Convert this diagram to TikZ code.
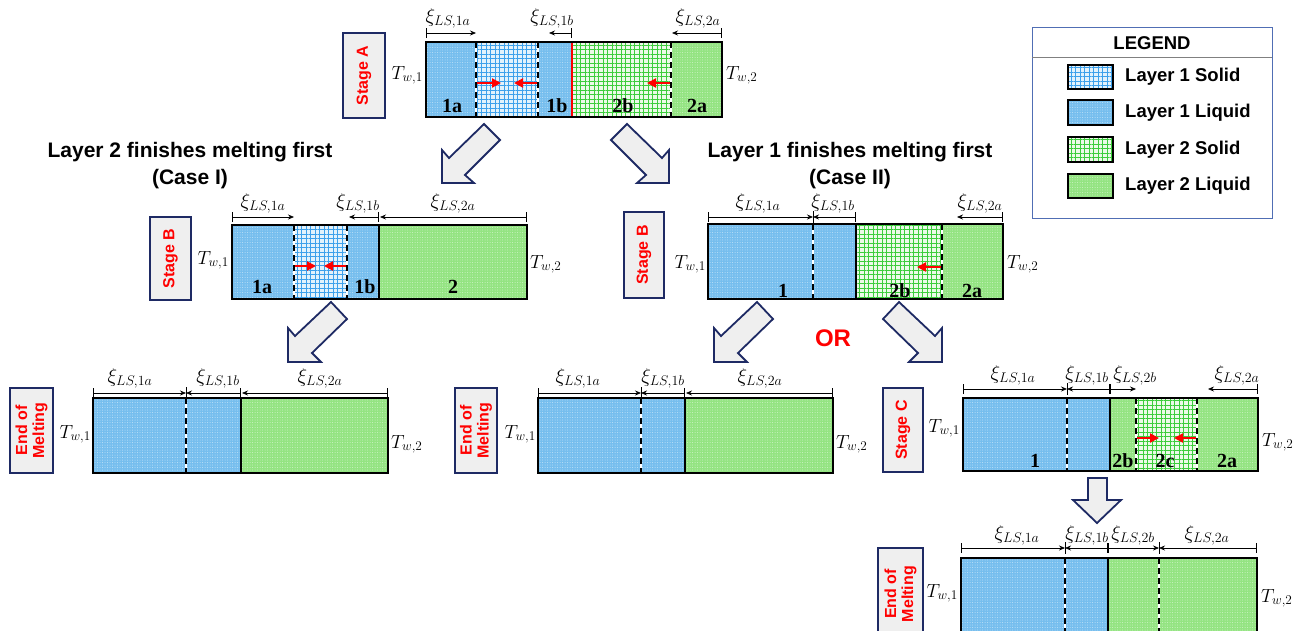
\RequirePackage{fix-cm}
\documentclass[tikz,border=0pt]{standalone}
\usepackage{fontspec}
\setmainfont{Liberation Serif}
\setsansfont{Liberation Sans}
\usetikzlibrary{arrows.meta,patterns.meta}

\definecolor{liqblue}{RGB}{118,190,238}
\definecolor{solbluebg}{RGB}{226,242,252}
\definecolor{gridblue}{RGB}{60,160,235}
\definecolor{liqgreen}{RGB}{148,228,130}
\definecolor{solgreenbg}{RGB}{235,250,232}
\definecolor{gridgreen}{RGB}{60,205,60}
\definecolor{navy}{RGB}{30,42,100}
\definecolor{panel}{RGB}{239,239,239}
\definecolor{legframe}{RGB}{80,110,180}

\tikzset{
  liqA/.style={preaction={fill=liqblue}, pattern={Dots[distance=2.5pt,radius=0.5pt]}, pattern color=white!55!liqblue},
  solA/.style={preaction={fill=solbluebg}, pattern={Hatch[distance=4.5pt,line width=0.6pt]}, pattern color=gridblue},
  liqB/.style={preaction={fill=liqgreen}, pattern={Dots[distance=2.5pt,radius=0.5pt]}, pattern color=white!55!liqgreen},
  solB/.style={preaction={fill=solgreenbg}, pattern={Hatch[distance=4.5pt,line width=0.6pt]}, pattern color=gridgreen},
  frame/.style={draw=black, line width=1.6pt},
  iface/.style={preaction={draw=white, solid, line width=1.2pt},
    draw=black, line width=1.6pt, dash pattern=on 6pt off 4pt},
  wall/.style={draw=black, line width=1.6pt},
  dimbar/.style={line width=0.7pt, arrows={Bar[width=10pt]-Stealth[length=6pt,width=5pt]}},
  tick/.style={line width=0.7pt},
  melt/.style={red, line width=2pt, -{Triangle[length=9pt,width=9pt]}},
  xi/.style={font=\fontsize{20}{22}\selectfont, anchor=base, inner sep=0pt},
  tw/.style={font=\fontsize{19}{21}\selectfont, inner sep=0pt},
  zone/.style={font=\fontsize{20}{22}\selectfont\bfseries, anchor=base, inner sep=0pt},
  stagebox/.style={draw=navy, line width=1.5pt, fill=panel, rotate=90, text=red,
    font=\fontsize{16}{17}\selectfont\sffamily\bfseries, align=center, inner sep=0pt},
  bigarr/.style={draw=navy, line width=1.8pt, fill=panel, line join=miter},
  heading/.style={font=\fontsize{21}{27}\selectfont\sffamily\bfseries, align=center},
  legtxt/.style={font=\fontsize{18.5}{20}\selectfont\sffamily\bfseries, anchor=west, inner sep=0pt},
  swatch/.style={draw=black, line width=1.5pt},
}

\begin{document}
\begin{tikzpicture}[x=1pt,y=-1pt]
\useasboundingbox (0,0) rectangle (1311,630);
\clip (0,0) rectangle (1311,630);

% ---------------- Stage A ----------------
\node[stagebox, minimum width=85pt, minimum height=42pt] (sA) at (364,75.5) {Stage A};
\path[liqA] (426,42) rectangle (476,117);
\path[solA] (476,42) rectangle (538,117);
\path[liqA] (538,42) rectangle (572,117);
\path[solB] (572,42) rectangle (671,117);
\path[liqB] (671,42) rectangle (722,117);
\draw[iface] (476,42) -- (476,117);
\draw[iface] (538,42) -- (538,117);
\draw[iface] (671,42) -- (671,117);
\draw[red, line width=2.4pt] (572,42) -- (572,117);
\draw[frame] (426,42) rectangle (722,117);
\draw[melt] (477,83) -- (501,83);
\draw[melt] (537,83) -- (514,83);
\draw[melt] (670,83) -- (647,83);
\node[zone] (zA1) at (452,112) {1a};
\node[zone] (zA2) at (557,112) {1b};
\node[zone] (zA3) at (623,112) {2b};
\node[zone] (zA4) at (697,112) {2a};
\draw[dimbar] (426,33) -- (476,33);
\draw[dimbar] (572,33) -- (549,33);
\draw[dimbar] (722,33) -- (672,33);
\node[xi] (xA1) at (448,22) {$\xi_{LS,1a}$};
\node[xi] (xA2) at (552,22) {$\xi_{LS,1b}$};
\node[xi] (xA3) at (698,22) {$\xi_{LS,2a}$};
\node[tw, anchor=base east] (tA1) at (423,79) {$T_{w,1}$};
\node[tw, anchor=base west] (tA2) at (726,79) {$T_{w,2}$};

% ---------------- branch headings ----------------
\node[heading] (h1) at (190,166) {Layer 2 finishes melting first\\(Case I)};
\node[heading] (h2) at (850,166) {Layer 1 finishes melting first\\(Case II)};

% ---------------- big block arrows ----------------
\draw[bigarr, shift={(442,183)}] (0,0) -- (0,-33) -- (7,-25) -- (42,-59) -- (58,-43) -- (23,-8) -- (32,0) -- cycle;
\draw[bigarr, shift={(669,183)}, xscale=-1] (0,0) -- (0,-33) -- (7,-25) -- (42,-59) -- (58,-43) -- (23,-8) -- (32,0) -- cycle;
\draw[bigarr, shift={(288,362)}] (0,0) -- (0,-34) -- (7,-26) -- (43,-60) -- (59,-43) -- (24,-9) -- (33,0) -- cycle;
\draw[bigarr, shift={(714,362)}] (0,0) -- (0,-34) -- (7,-26) -- (43,-60) -- (59,-43) -- (24,-9) -- (33,0) -- cycle;
\draw[bigarr, shift={(942,362)}, xscale=-1] (0,0) -- (0,-34) -- (7,-26) -- (43,-60) -- (59,-43) -- (24,-9) -- (33,0) -- cycle;
\draw[bigarr] (1088,478) -- (1107,478) -- (1107,500) -- (1121,500) -- (1097,523) -- (1073,500) -- (1088,500) -- cycle;
\node[text=red, font=\fontsize{24}{26}\selectfont\sffamily\bfseries] (or) at (833,338) {OR};

% ---------------- Stage B, case I ----------------
\node[stagebox, minimum width=83pt, minimum height=41pt] (sB1) at (170.5,258.5) {Stage B};
\path[liqA] (232,225) rectangle (294,299);
\path[solA] (294,225) rectangle (347,299);
\path[liqA] (347,225) rectangle (379,299);
\path[liqB] (379,225) rectangle (527,299);
\draw[iface] (294,225) -- (294,299);
\draw[iface] (347,225) -- (347,299);
\draw[wall] (379,225) -- (379,299);
\draw[frame] (232,225) rectangle (527,299);
\draw[melt] (295,266) -- (316,266);
\draw[melt] (346,266) -- (324,266);
\node[zone] (zB1) at (262,293) {1a};
\node[zone] (zB2) at (365,293) {1b};
\node[zone] (zB3) at (453,293) {2};
\draw[dimbar] (232,217) -- (294,217);
\draw[dimbar] (379,217) -- (349,217);
\draw[dimbar] (527,217) -- (380,217);
\node[xi] (xB1) at (263,207) {$\xi_{LS,1a}$};
\node[xi] (xB2) at (358,207) {$\xi_{LS,1b}$};
\node[xi] (xB3) at (453,207) {$\xi_{LS,2a}$};
\node[tw, anchor=base east] (tB1) at (229,264) {$T_{w,1}$};
\node[tw, anchor=base west] (tB2) at (530,268) {$T_{w,2}$};

% ---------------- Stage B, case II ----------------
\node[stagebox, minimum width=86pt, minimum height=40pt] (sB2) at (644,255) {Stage B};
\path[liqA] (708,224) rectangle (856,299);
\path[solB] (856,224) rectangle (942,299);
\path[liqB] (942,224) rectangle (1003,299);
\draw[iface] (813,224) -- (813,299);
\draw[wall] (856,224) -- (856,299);
\draw[iface] (942,224) -- (942,299);
\draw[frame] (708,224) rectangle (1003,299);
\draw[melt] (941,267) -- (917,267);
\node[zone] (zC1) at (783,297) {1};
\node[zone] (zC2) at (900,297) {2b};
\node[zone] (zC3) at (972,297) {2a};
\draw[dimbar] (708,217) -- (813,217);
\draw[dimbar] (856,217) -- (813,217);
\draw[tick] (813,211) -- (813,223);
\draw[dimbar] (1003,217) -- (957,217);
\node[xi] (xC1) at (758,207) {$\xi_{LS,1a}$};
\node[xi] (xC2) at (833,207) {$\xi_{LS,1b}$};
\node[xi] (xC3) at (980,207) {$\xi_{LS,2a}$};
\node[tw, anchor=base east] (tC1) at (706,268) {$T_{w,1}$};
\node[tw, anchor=base west] (tC2) at (1007,268) {$T_{w,2}$};

% ---------------- End of melting, case I ----------------
\node[stagebox, minimum width=85pt, minimum height=43pt] (sD) at (31.5,430.5) {End of\\Melting};
\path[liqA] (93,398) rectangle (241,473);
\path[liqB] (241,398) rectangle (388,473);
\draw[iface] (186,398) -- (186,473);
\draw[wall] (241,398) -- (241,473);
\draw[frame] (93,398) rectangle (388,473);
\draw[dimbar] (93,393) -- (186,393);
\draw[dimbar] (241,393) -- (186,393);
\draw[tick] (186,387) -- (186,399);
\draw[dimbar] (388,393) -- (242,393);
\node[xi] (xD1) at (130,382) {$\xi_{LS,1a}$};
\node[xi] (xD2) at (218,382) {$\xi_{LS,1b}$};
\node[xi] (xD3) at (320,382) {$\xi_{LS,2a}$};
\node[tw, anchor=base east] (tD1) at (91,438) {$T_{w,1}$};
\node[tw, anchor=base west] (tD2) at (391,448) {$T_{w,2}$};

% ---------------- End of melting, case II (direct) ----------------
\node[stagebox, minimum width=85pt, minimum height=42pt] (sE) at (476,430.5) {End of\\Melting};
\path[liqA] (538,398) rectangle (685,473);
\path[liqB] (685,398) rectangle (833,473);
\draw[iface] (641,398) -- (641,473);
\draw[wall] (685,398) -- (685,473);
\draw[frame] (538,398) rectangle (833,473);
\draw[dimbar] (538,393) -- (641,393);
\draw[dimbar] (685,393) -- (641,393);
\draw[tick] (641,387) -- (641,399);
\draw[dimbar] (833,393) -- (686,393);
\node[xi] (xE1) at (578,382) {$\xi_{LS,1a}$};
\node[xi] (xE2) at (663,382) {$\xi_{LS,1b}$};
\node[xi] (xE3) at (760,382) {$\xi_{LS,2a}$};
\node[tw, anchor=base east] (tE1) at (536,438) {$T_{w,1}$};
\node[tw, anchor=base west] (tE2) at (836,448) {$T_{w,2}$};

% ---------------- Stage C ----------------
\node[stagebox, minimum width=84pt, minimum height=40pt] (sF) at (903,430) {Stage C};
\path[liqA] (963,398) rectangle (1110,471);
\path[liqB] (1110,398) rectangle (1136,471);
\path[solB] (1136,398) rectangle (1197,471);
\path[liqB] (1197,398) rectangle (1258,471);
\draw[iface] (1067,398) -- (1067,471);
\draw[wall] (1110,398) -- (1110,471);
\draw[iface] (1136,398) -- (1136,471);
\draw[iface] (1197,398) -- (1197,471);
\draw[frame] (963,398) rectangle (1258,471);
\draw[melt] (1137,438) -- (1159,438);
\draw[melt] (1196,438) -- (1174,438);
\node[zone] (zF1) at (1035,467) {1};
\node[zone] (zF2) at (1123,467) {2b};
\node[zone] (zF3) at (1165,467) {2c};
\node[zone] (zF4) at (1227,467) {2a};
\draw[dimbar] (963,389) -- (1067,389);
\draw[dimbar] (1110,389) -- (1067,389);
\draw[tick] (1067,383) -- (1067,395);
\draw[dimbar] (1110,389) -- (1136,389);
\draw[dimbar] (1258,389) -- (1208,389);
\node[xi] (xF1) at (1013,379) {$\xi_{LS,1a}$};
\node[xi] (xF2) at (1087,379) {$\xi_{LS,1b}$};
\node[xi] (xF3) at (1135,379) {$\xi_{LS,2b}$};
\node[xi] (xF4) at (1237,379) {$\xi_{LS,2a}$};
\node[tw, anchor=base east] (tF1) at (960,432) {$T_{w,1}$};
\node[tw, anchor=base west] (tF2) at (1262,446) {$T_{w,2}$};

% ---------------- End of melting after stage C ----------------
\node[stagebox, minimum width=92pt, minimum height=45pt] (sG) at (900.5,594) {End of\\Melting};
\path[liqA] (961,558) rectangle (1108,634);
\path[liqB] (1108,558) rectangle (1257,634);
\draw[iface] (1065,558) -- (1065,634);
\draw[wall] (1108,558) -- (1108,634);
\draw[iface] (1159,558) -- (1159,634);
\draw[frame] (961,558) rectangle (1257,634);
\draw[dimbar] (961,548) -- (1065,548);
\draw[dimbar] (1108,548) -- (1065,548);
\draw[tick] (1065,542) -- (1065,554);
\draw[dimbar] (1108,548) -- (1159,548);
\draw[dimbar] (1257,548) -- (1159,548);
\draw[tick] (1159,542) -- (1159,554);
\node[xi] (xG1) at (1017,539) {$\xi_{LS,1a}$};
\node[xi] (xG2) at (1087,539) {$\xi_{LS,1b}$};
\node[xi] (xG3) at (1133,539) {$\xi_{LS,2b}$};
\node[xi] (xG4) at (1207,539) {$\xi_{LS,2a}$};
\node[tw, anchor=base east] (tG1) at (958,597) {$T_{w,1}$};
\node[tw, anchor=base west] (tG2) at (1261,602) {$T_{w,2}$};

% ---------------- legend ----------------
\draw[legframe, line width=1pt] (1032,27) rectangle (1272,218);
\draw[gray, line width=0.6pt] (1032,57) -- (1272,57);
\node[font=\fontsize{18.5}{20}\selectfont\sffamily\bfseries] (legT) at (1152,43) {LEGEND};
\path[solA, swatch] (1068,65) rectangle (1113,89);
\path[liqA, swatch] (1068,100) rectangle (1113,125);
\path[solB, swatch] (1068,137) rectangle (1113,162);
\path[liqB, swatch] (1068,174) rectangle (1113,198);
\node[legtxt] (l1) at (1125,77) {Layer 1 Solid};
\node[legtxt] (l2) at (1125,113) {Layer 1 Liquid};
\node[legtxt] (l3) at (1125,150) {Layer 2 Solid};
\node[legtxt] (l4) at (1125,186) {Layer 2 Liquid};
\end{tikzpicture}
\end{document}
